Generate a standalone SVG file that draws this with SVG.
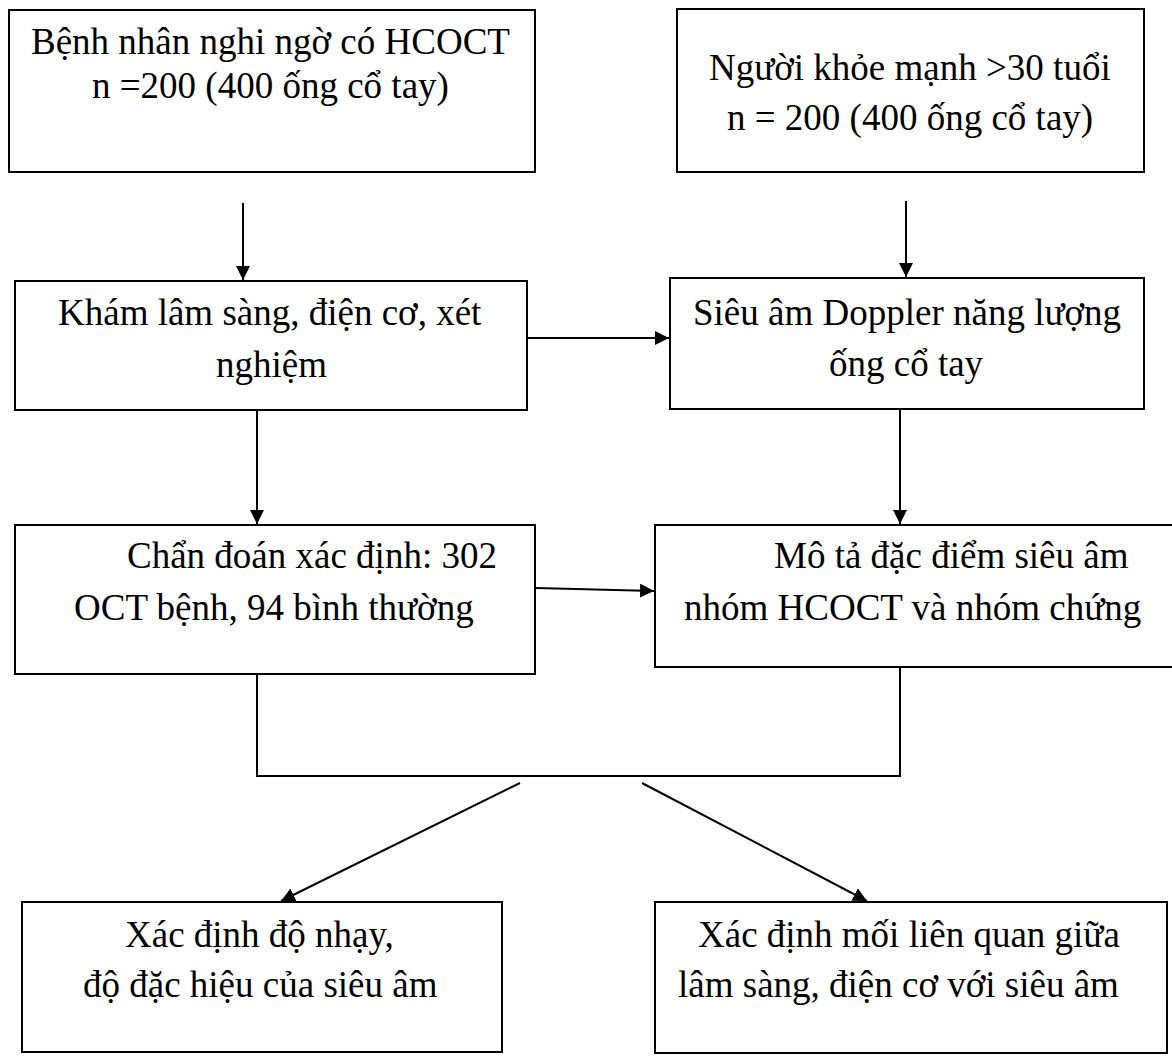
<svg xmlns="http://www.w3.org/2000/svg" width="1172" height="1057" viewBox="0 0 1172 1057">
<style>
.box{fill:#fff;stroke:#000;stroke-width:2}
.t{font-family:"Liberation Serif","Times New Roman",serif;font-size:37px;fill:#000}
.c{fill:none;stroke:#000;stroke-width:2}
</style>
<defs>
<marker id="ah" markerUnits="userSpaceOnUse" markerWidth="15" markerHeight="14" refX="14" refY="7" orient="auto">
<path d="M0,0 L14,7 L0,14 Z" fill="#000"/>
</marker>
</defs>
<rect width="1172" height="1057" fill="#fff"/>
<g id="connectors">
<line class="c" x1="243" y1="203" x2="243" y2="280" marker-end="url(#ah)"/>
<line class="c" x1="906" y1="201" x2="906" y2="277" marker-end="url(#ah)"/>
<line class="c" x1="528" y1="338" x2="669" y2="338" marker-end="url(#ah)"/>
<line class="c" x1="257" y1="411" x2="257" y2="524" marker-end="url(#ah)"/>
<line class="c" x1="900" y1="410" x2="900" y2="524" marker-end="url(#ah)"/>
<line class="c" x1="536" y1="588" x2="654" y2="591" marker-end="url(#ah)"/>
<polyline class="c" points="257,674 257,776 900,776 900,665"/>
<line class="c" x1="520" y1="783" x2="281" y2="901" marker-end="url(#ah)"/>
<line class="c" x1="642" y1="783" x2="867" y2="901" marker-end="url(#ah)"/>
</g>
<g id="n1">
<rect class="box" x="9" y="10" width="526" height="162"/>
<text class="t" x="31" y="54">Bệnh nhân nghi ngờ có HCOCT</text>
<text class="t" x="92" y="98">n =200 (400 ống cổ tay)</text>
</g>
<g id="n2">
<rect class="box" x="677" y="9" width="467" height="163"/>
<text class="t" x="709" y="80">Người khỏe mạnh &gt;30 tuổi</text>
<text class="t" x="727" y="130">n = 200 (400 ống cổ tay)</text>
</g>
<g id="n3">
<rect class="box" x="15" y="281" width="512" height="129"/>
<text class="t" x="58" y="325">Khám lâm sàng, điện cơ, xét</text>
<text class="t" x="216" y="377">nghiệm</text>
</g>
<g id="n4">
<rect class="box" x="670" y="278" width="474" height="131"/>
<text class="t" x="693" y="325">Siêu âm Doppler năng lượng</text>
<text class="t" x="829" y="376">ống cổ tay</text>
</g>
<g id="n5">
<rect class="box" x="15" y="525" width="520" height="149"/>
<text class="t" x="127" y="568">Chẩn đoán xác định: 302</text>
<text class="t" x="74" y="620">OCT bệnh, 94 bình thường</text>
</g>
<g id="n6">
<rect class="box" x="655" y="525" width="530" height="142"/>
<text class="t" x="774" y="568">Mô tả đặc điểm siêu âm</text>
<text class="t" x="684" y="620">nhóm HCOCT và nhóm chứng</text>
</g>
<g id="n7">
<rect class="box" x="22" y="902" width="480" height="150"/>
<text class="t" x="125" y="947">Xác định độ nhạy,</text>
<text class="t" x="83" y="997">độ đặc hiệu của siêu âm</text>
</g>
<g id="n8">
<rect class="box" x="655" y="902" width="512" height="151"/>
<text class="t" x="698" y="947">Xác định mối liên quan giữa</text>
<text class="t" x="678" y="997">lâm sàng, điện cơ với siêu âm</text>
</g>
</svg>
